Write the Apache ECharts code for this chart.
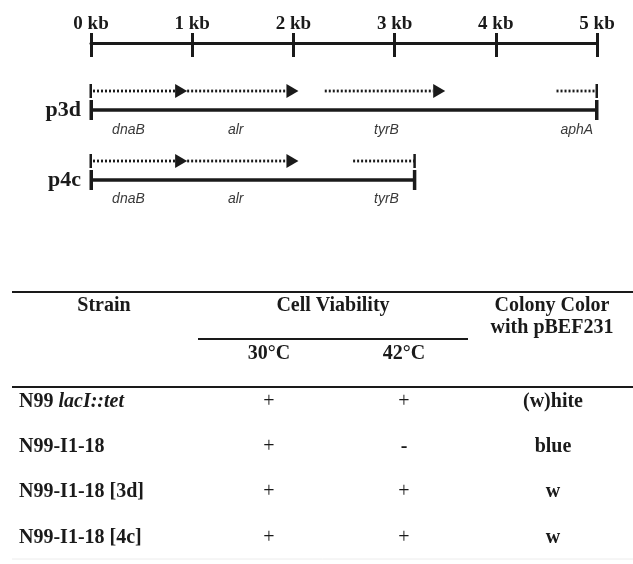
<!DOCTYPE html>
<html>
<head>
<meta charset="utf-8">
<script src="https://cdn.jsdelivr.net/npm/echarts@6/dist/echarts.min.js"></script>
<style>html,body{margin:0;padding:0;background:#fff}#c{width:633px;height:564px}</style>
</head>
<body>
<div id="c"></div>
<script>
// ---------- DATA ----------
const scaleTicks = [0, 1, 2, 3, 4, 5];            // kb
const constructNames = ['p3d', 'p4c'];
const constructEnds = [5.0, 3.2];                 // kb
// p3d genes
const p3dGeneNames = ['dnaB', 'alr', 'tyrB', 'aphA'];
const p3dGeneStart = [0, 0.95, 2.31, 4.6];
const p3dGeneEnd = [0.95, 2.05, 3.5, 5.0];
const p3dGeneArrow = [1, 1, 1, 0];
const p3dLabelAt = [0.37, 1.43, 2.92, 4.8];
// p4c genes
const p4cGeneNames = ['dnaB', 'alr', 'tyrB'];
const p4cGeneStart = [0, 0.95, 2.59];
const p4cGeneEnd = [0.95, 2.05, 3.2];
const p4cGeneArrow = [1, 1, 0];
const p4cLabelAt = [0.37, 1.43, 2.92];
// table
const strains = ['N99 lacI::tet', 'N99-I1-18', 'N99-I1-18 [3d]', 'N99-I1-18 [4c]'];
const viability30 = ['+', '+', '+', '+'];
const viability42 = ['+', '-', '+', '+'];
const colonyColor = ['(w)hite', 'blue', 'w', 'w'];

// ---------- LAYOUT ----------
const SERIF = '"Liberation Serif","Times New Roman",serif';
const SANS = '"Liberation Sans",Arial,sans-serif';
const INK = '#1a1a1a';
const TFS = 20; // table font size
// track offsets (px below the ruler line) for each construct
const track = [{genes: 48, line: 67, label: 87}, {genes: 118, line: 137, label: 156}];
const colX = {strain: 19, c30: 269, c42: 404, colony: 553};

const geneData = [];
function addGenes(ci, starts, ends, arrows) {
  const last = starts.length - 1;
  for (let i = 0; i < starts.length; i++) {
    geneData.push([starts[i], ends[i], track[ci].genes, arrows[i], i === 0 ? 1 : 0, (i === last && !arrows[i]) ? 1 : 0]);
  }
}
addGenes(0, p3dGeneStart, p3dGeneEnd, p3dGeneArrow);
addGenes(1, p4cGeneStart, p4cGeneEnd, p4cGeneArrow);

const labelData = [];
p3dLabelAt.forEach((x, i) => labelData.push({value: [x, track[0].label], name: p3dGeneNames[i]}));
p4cLabelAt.forEach((x, i) => labelData.push({value: [x, track[1].label], name: p4cGeneNames[i]}));

const lineData = constructEnds.map((e, i) => ({value: [e, track[i].line], name: constructNames[i]}));

const chart = echarts.init(document.getElementById('c'), null, {renderer: 'canvas'});

const hdr = (txt, x, y) => ({type: 'text', x: x, y: y, style: {text: txt, font: 'bold ' + TFS + 'px ' + SERIF, fill: INK, align: 'center', verticalAlign: 'middle'}});

const option = {
  animation: false,
  backgroundColor: '#fff',
  grid: [
    {left: 91, right: 36, top: 43, height: 160},
    {left: 0, right: 0, top: 379, height: 181}
  ],
  xAxis: [
    {gridIndex: 0, type: 'value', min: 0, max: 5, interval: 1, position: 'top',
     axisLine: {onZero: false, lineStyle: {color: INK, width: 3}},
     axisTick: {length: 10, lineStyle: {color: INK, width: 3}},
     axisLabel: {formatter: v => v + ' kb', fontFamily: SERIF, fontWeight: 'bold', fontSize: 19, color: INK, margin: 9},
     splitLine: {show: false}},
    {gridIndex: 0, type: 'value', min: 0, max: 5, interval: 1, position: 'top',
     axisLine: {show: false, onZero: false},
     axisTick: {inside: true, length: 14, lineStyle: {color: INK, width: 3}},
     axisLabel: {show: false}, splitLine: {show: false}},
    {gridIndex: 1, type: 'value', min: 0, max: 1, show: false}
  ],
  yAxis: [
    {gridIndex: 0, type: 'value', inverse: true, min: 0, max: 160, show: false},
    {gridIndex: 1, type: 'category', inverse: true, data: strains, show: false}
  ],
  series: [
    // construct backbone lines
    {type: 'custom', xAxisIndex: 0, yAxisIndex: 0, data: lineData,
     renderItem: function (params, api) {
       const p0 = api.coord([0, api.value(1)]);
       const p1 = api.coord([api.value(0), api.value(1)]);
       const name = constructNames[params.dataIndex];
       return {type: 'group', children: [
         {type: 'line', shape: {x1: p0[0], y1: p0[1], x2: p1[0], y2: p1[1]}, style: {stroke: INK, lineWidth: 3.5}},
         {type: 'rect', shape: {x: p0[0] - 1.5, y: p0[1] - 10, width: 3.5, height: 20}, style: {fill: INK}},
         {type: 'rect', shape: {x: p1[0] - 2, y: p1[1] - 10, width: 3.5, height: 20}, style: {fill: INK}},
         {type: 'text', x: p0[0] - 10, y: p0[1], style: {text: name, fontFamily: SERIF, fontWeight: 'bold', fontSize: 22, fill: INK, align: 'right', verticalAlign: 'middle'}}
       ]};
     }},
    // gene dotted arrows
    {type: 'custom', xAxisIndex: 0, yAxisIndex: 0, data: geneData,
     renderItem: function (params, api) {
       const y = api.value(2);
       const a = api.coord([api.value(0), y]);
       const b = api.coord([api.value(1), y]);
       const arrow = api.value(3), st = api.value(4), et = api.value(5);
       const head = 12;
       const endX = arrow ? b[0] - head : b[0];
       const ch = [
         {type: 'line', shape: {x1: a[0] + (st ? 2 : 0), y1: a[1], x2: endX, y2: a[1]}, style: {stroke: INK, lineWidth: 2.8, lineDash: [2, 2]}}
       ];
       if (arrow) ch.push({type: 'polygon', shape: {points: [[b[0] - head, b[1] - 7], [b[0], b[1]], [b[0] - head, b[1] + 7]]}, style: {fill: INK}});
       if (st) ch.push({type: 'rect', shape: {x: a[0] - 1.5, y: a[1] - 7, width: 2.5, height: 14}, style: {fill: INK}});
       if (et) ch.push({type: 'rect', shape: {x: b[0] - 1.5, y: b[1] - 7, width: 2.5, height: 14}, style: {fill: INK}});
       return {type: 'group', children: ch};
     }},
    // gene labels
    {type: 'custom', xAxisIndex: 0, yAxisIndex: 0, data: labelData,
     renderItem: function (params, api) {
       const p = api.coord([api.value(0), api.value(1)]);
       return {type: 'text', x: p[0], y: p[1], style: {text: labelData[params.dataIndex].name, fontFamily: SANS, fontStyle: 'italic', fontSize: 14, fill: '#3a3a3a', align: 'center', verticalAlign: 'middle'}};
     }},
    // table body
    {type: 'custom', xAxisIndex: 2, yAxisIndex: 1, data: strains.map((s, i) => [0, i]),
     renderItem: function (params, api) {
       const i = params.dataIndex;
       const y = api.coord([0, i])[1];
       const s = strains[i];
       let rich;
       if (s.indexOf('lacI') > 0) {
         const parts = s.split(' ');
         rich = '{b|' + parts[0] + ' }{bi|' + parts[1] + '}';
       } else {
         rich = '{b|' + s + '}';
       }
       const cell = (txt, x) => ({type: 'text', x: x, y: y, style: {
         text: txt, fontFamily: SERIF, fontWeight: txt === '+' ? 'normal' : 'bold', fontSize: TFS,
         fill: INK, align: 'center', verticalAlign: 'middle'}});
       return {type: 'group', children: [
         {type: 'text', x: colX.strain, y: y, style: {text: rich, align: 'left', verticalAlign: 'middle',
           rich: {b: {fontFamily: SERIF, fontWeight: 'bold', fontSize: TFS, fill: INK},
                  bi: {fontFamily: SERIF, fontWeight: 'bold', fontStyle: 'italic', fontSize: TFS, fill: INK}}}},
         cell(viability30[i], colX.c30),
         cell(viability42[i], colX.c42),
         cell(colonyColor[i], colX.colony)
       ]};
     }}
  ],
  graphic: [
    {type: 'line', shape: {x1: 12, y1: 292, x2: 633, y2: 292}, style: {stroke: INK, lineWidth: 2}},
    {type: 'line', shape: {x1: 198, y1: 339, x2: 468, y2: 339}, style: {stroke: INK, lineWidth: 2}},
    {type: 'line', shape: {x1: 12, y1: 387, x2: 633, y2: 387}, style: {stroke: INK, lineWidth: 2}},
    {type: 'line', shape: {x1: 12, y1: 559, x2: 633, y2: 559}, style: {stroke: '#ececec', lineWidth: 1}},
    hdr('Strain', 104, 306),
    hdr('Cell Viability', 333, 306),
    hdr('Colony Color', 552, 306),
    hdr('with pBEF231', 552, 328),
    hdr('30\u00B0C', 269, 354),
    hdr('42\u00B0C', 404, 354)
  ]
};
chart.setOption(option);
</script>
</body>
</html>
